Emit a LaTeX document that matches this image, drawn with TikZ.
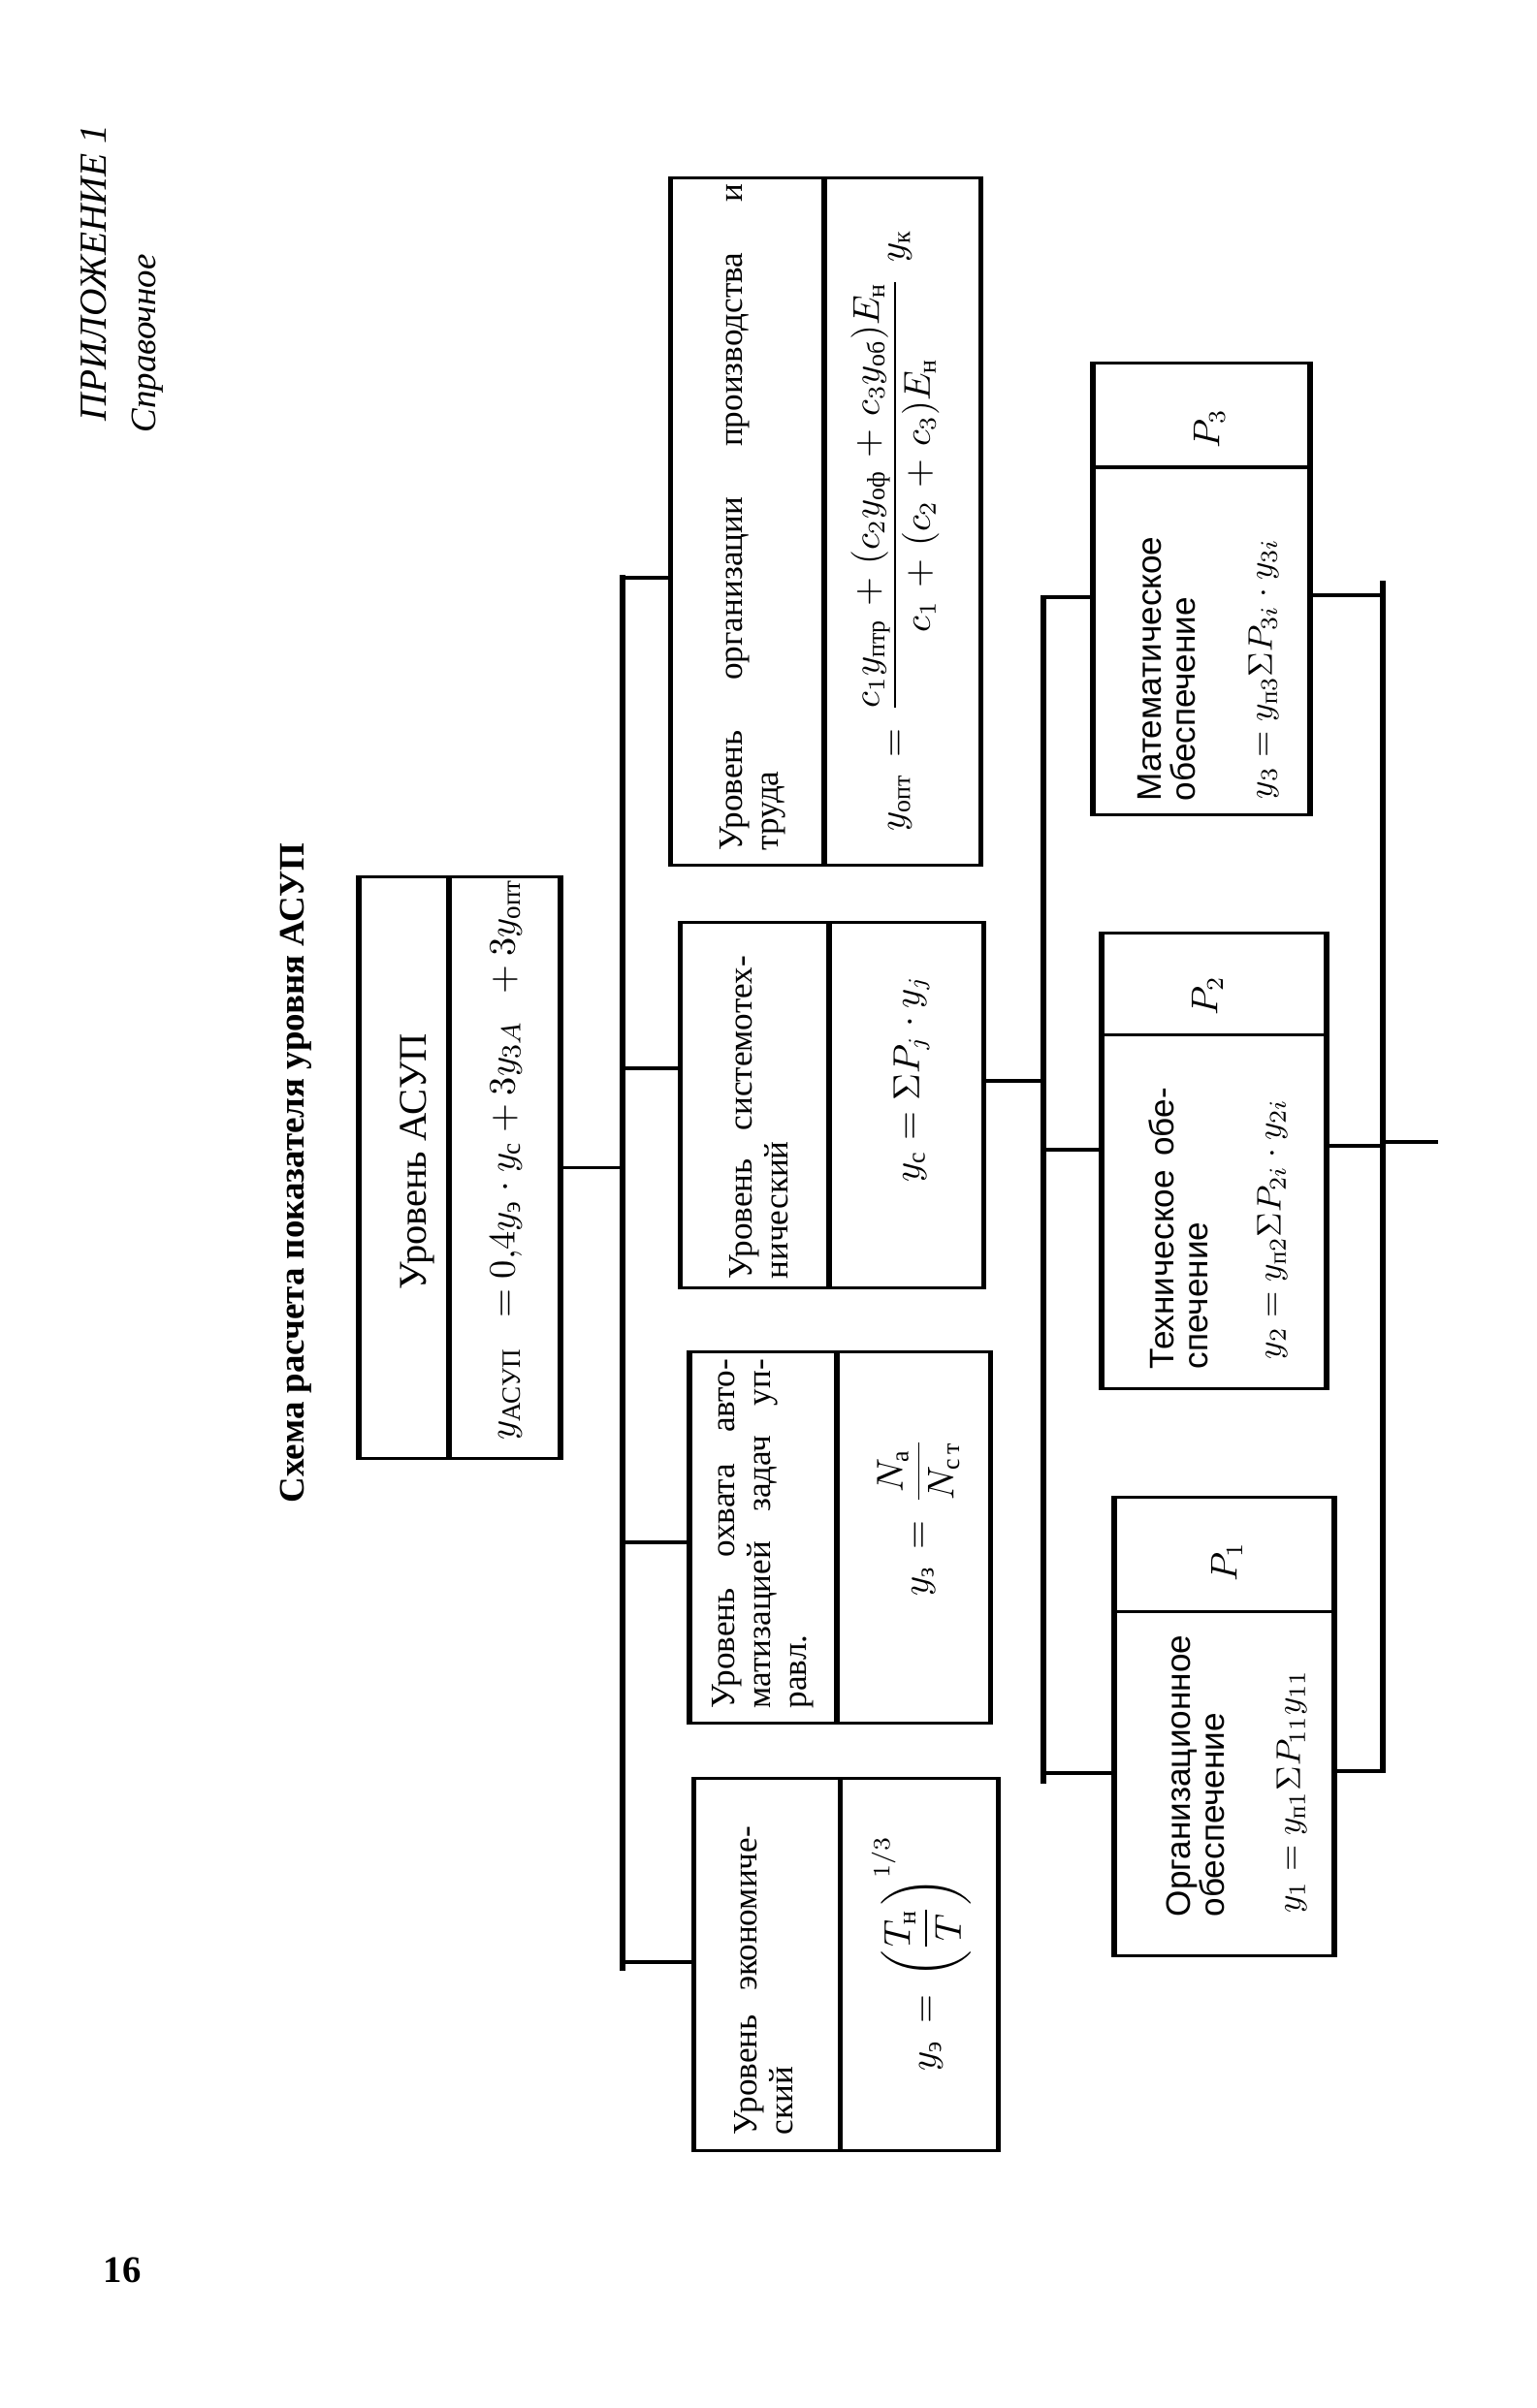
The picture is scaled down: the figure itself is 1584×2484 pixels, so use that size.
\documentclass[tikz,border=0pt]{standalone}
\usepackage{amsmath}
\usepackage{fontspec}
\setmainfont{Liberation Serif}
\newfontfamily\sansf{Liberation Sans}
\usetikzlibrary{calc}
\newcommand\wsp{\medmuskip=6mu\relax\thickmuskip=8mu\relax}
\begin{document}
\begin{tikzpicture}[x=0.01cm,y=0.01cm,
  box/.style={draw, line width=0.9pt, rectangle, inner sep=0pt},
  thk/.style={line width=1.5pt},
  thn/.style={line width=0.9pt},
  lbl/.style={rotate=90, inner sep=0pt, align=left, font=\fontsize{10}{10.5}\selectfont},
  slbl/.style={rotate=90, inner sep=0pt, align=left, font=\sansf\fontsize{10}{10}\selectfont},
  fml/.style={rotate=90, inner sep=0pt, font=\fontsize{10.5}{12}\selectfont},
  sfml/.style={rotate=90, inner sep=0pt, font=\fontsize{10}{12}\selectfont}]
\useasboundingbox (0,0) rectangle (1584,-2484);
\fill[white] (0,0) rectangle (1584,-2484);

% page headings
\node[rotate=90, anchor=base west, inner sep=0pt, font=\fontsize{11.2}{12}\selectfont\itshape] (app) at (110,-435) {ПРИЛОЖЕНИЕ 1};
\node[rotate=90, anchor=base west, inner sep=0pt, font=\fontsize{10.5}{12}\selectfont\itshape] (ref) at (160,-447) {Справочное};
\node[rotate=90, anchor=base west, inner sep=0pt, font=\fontsize{10.5}{12}\selectfont\bfseries] (title) at (313,-1551) {Схема расчета показателя уровня АСУП};
\node[inner sep=0pt, font=\fontsize{11}{12}\selectfont\bfseries] (pg) at (126,-2342) {16};

% top box
\node[box, minimum width=2.06cm, minimum height=5.99cm] (asup) at (474,-1204.5) {};
\draw[thk] (asup.north west) -- (asup.south west) (asup.north east) -- (asup.south east)
  ($(asup.north west)!0.447!(asup.north east)$) -- ($(asup.south west)!0.447!(asup.south east)$);
\node[rotate=90, inner sep=0pt, font=\fontsize{11.5}{13}\selectfont] (asupT) at (430,-1198) {Уровень АСУП};
\node[fml, font=\fontsize{11}{13}\selectfont] (asupF) at (522,-1196) {$y_{\text{АСУП}}\enspace=0{,}4y_{\text{э}}\cdot y_{\text{с}}+3y_{3A}\enspace+3y_{\text{опт}}$};

% level 2 boxes
\node[box, minimum width=3.17cm, minimum height=7.08cm] (A) at (851.5,-538) {};
\draw[thk] (A.north west) -- (A.south west) (A.north east) -- (A.south east)
  ($(A.north west)!0.495!(A.north east)$) -- ($(A.south west)!0.495!(A.south east)$);
\node[lbl, text width=6.87cm, anchor=west] (At) at (776,-878) {Уровень\hfill организации\hfill производства\hfill и\\труда};
\node[fml] (Af) at (923,-547) {$\wsp y_{\text{опт}}=\dfrac{c_1y_{\text{птр}}+(c_2y_{\text{оф}}+c_3y_{\text{об}})E_{\text{н}}}{c_1+(c_2+c_3)E_{\text{н}}}\;y_{\text{к}}$};

\node[box, minimum width=3.10cm, minimum height=3.76cm] (B) at (858,-1140) {};
\draw[thk] (B.north west) -- (B.south west) (B.north east) -- (B.south east)
  ($(B.north west)!0.49!(B.north east)$) -- ($(B.south west)!0.49!(B.south east)$);
\node[lbl, text width=3.33cm, anchor=west] (Bt) at (783,-1320) {Уровень\hfill системотех-\\нический};
\node[fml] (Bf) at (940,-1113) {$y_{\text{с}}=\Sigma P_j\cdot y_j$};

\node[box, minimum width=3.08cm, minimum height=3.82cm] (C) at (866,-1586) {};
\draw[thk] (C.north west) -- (C.south west) (C.north east) -- (C.south east)
  ($(C.north west)!0.49!(C.north east)$) -- ($(C.south west)!0.49!(C.south east)$);
\node[lbl, text width=3.60cm, anchor=west] (Ct) at (787,-1763) {Уровень\hfill охвата\hfill авто-\\матизацией\hfill задач\hfill уп-\\равл.};
\node[fml] (Cf) at (947,-1565) {$\wsp y_{\text{з}}=\dfrac{N_{\text{а}}}{N_{\text{с\,т}}}$};

\node[box, minimum width=3.11cm, minimum height=3.83cm] (D) at (872.5,-2026.5) {};
\draw[thk] (D.north west) -- (D.south west) (D.north east) -- (D.south east)
  ($(D.north west)!0.482!(D.north east)$) -- ($(D.south west)!0.482!(D.south east)$);
\node[lbl, text width=3.18cm, anchor=west] (Dt) at (788,-2203) {Уровень\hfill экономиче-\\ский};
\node[fml] (Df) at (950,-2015) {$\wsp y_{\text{э}}=\left(\dfrac{T_{\text{н}}}{T}\right)^{1/3}$};

% level 3 boxes
\node[box, minimum width=2.22cm, minimum height=4.65cm] (M) at (1239,-607.5) {};
\draw[thk] (M.north west) -- (M.south west) (M.north east) -- (M.south east);
\draw[thn] ($(M.north west)!0.232!(M.south west)$) -- ($(M.north east)!0.232!(M.south east)$);
\node[fml] (Mp) at (1247,-442) {$P_3$};
\node[slbl, text width=2.86cm, anchor=west] (Mt) at (1203,-827) {Математическое\\обеспечение};
\node[sfml] (Mf) at (1303,-690) {$y_3=y_{\text{п}3}\Sigma P_{3i}\cdot y_{3i}$};

\node[box, minimum width=2.30cm, minimum height=4.69cm] (T) at (1252,-1197.5) {};
\draw[thk] (T.north west) -- (T.south west) (T.north east) -- (T.south east);
\draw[thn] ($(T.north west)!0.224!(T.south west)$) -- ($(T.north east)!0.224!(T.south east)$);
\node[fml] (Tp) at (1245,-1027) {$P_2$};
\node[slbl, text width=2.90cm, anchor=west] (Tt) at (1215,-1413) {Техническое\hfill обе-\\спечение};
\node[sfml] (Tf) at (1312,-1268) {$y_2=y_{\text{п}2}\Sigma P_{2i}\cdot y_{2i}$};

\node[box, minimum width=2.25cm, minimum height=4.72cm] (O) at (1262.5,-1781) {};
\draw[thk] (O.north west) -- (O.south west) (O.north east) -- (O.south east);
\draw[thn] ($(O.north west)!0.25!(O.south west)$) -- ($(O.north east)!0.25!(O.south east)$);
\node[fml] (Op) at (1265,-1611) {$P_1$};
\node[slbl, text width=2.86cm, anchor=west] (Ot) at (1233,-1978) {Организационное\\обеспечение};
\node[sfml] (Of) at (1332,-1848) {$y_1=y_{\text{п}1}\Sigma P_{11}y_{11}$};

% level 2 bus
\coordinate (b2t) at (642,-593);
\coordinate (b2b) at (642,-2033);
\draw[thk] (b2t) -- (b2b);
\draw[thn] (asup.east) -- (asup.east -| b2t);
\coordinate (sA) at (642,-596);
\coordinate (sB) at (642,-1102);
\coordinate (sC) at (642,-1591);
\coordinate (sD) at (642,-2024);
\draw[thn] (sA) -- (sA -| A.west);
\draw[thn] (sB) -- (sB -| B.west);
\draw[thn] (sC) -- (sC -| C.west);
\draw[thn] (sD) -- (sD -| D.west);

% level 3 left bus
\coordinate (b3t) at (1076,-614);
\coordinate (b3b) at (1076,-1840);
\draw[thk] (b3t) -- (b3b);
\coordinate (sB3) at (1076,-1115);
\draw[thn] (sB3 -| B.east) -- (sB3);
\coordinate (sM) at (1076,-616);
\coordinate (sT) at (1076,-1186);
\coordinate (sO) at (1076,-1829);
\draw[thn] (sM) -- (sM -| M.west);
\draw[thn] (sT) -- (sT -| T.west);
\draw[thn] (sO) -- (sO -| O.west);

% level 3 right bus
\coordinate (r3t) at (1426,-599);
\coordinate (r3b) at (1426,-1829);
\draw[thk] (r3t) -- (r3b);
\coordinate (rM) at (1426,-614);
\coordinate (rT) at (1426,-1182);
\coordinate (rO) at (1426,-1827);
\draw[thn] (rM -| M.east) -- (rM);
\draw[thn] (rT -| T.east) -- (rT);
\draw[thn] (rO -| O.east) -- (rO);
\coordinate (out) at (1483,-1178);
\draw[thn] (out -| r3t) -- (out);
\end{tikzpicture}
\end{document}
